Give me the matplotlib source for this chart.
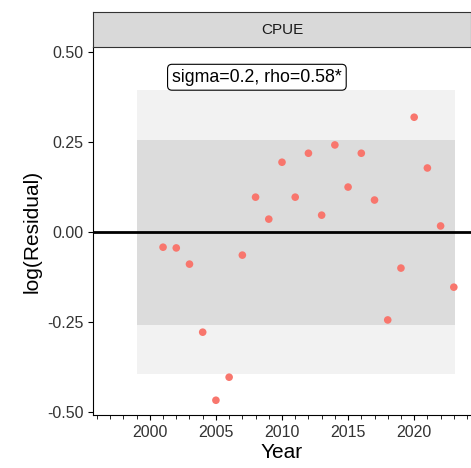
import matplotlib.pyplot as plt
import numpy as np

plt.rcParams['font.family'] = ['Liberation Sans', 'DejaVu Sans']

years = list(range(2001, 2024))
resid = [-0.042, -0.044, -0.089, -0.278, -0.467, -0.403, -0.064, 0.097, 0.036, 0.194,
         0.097, 0.219, 0.047, 0.242, 0.125, 0.219, 0.089, -0.244, -0.1, 0.319,
         0.178, 0.017, -0.153]
sigma_band = 0.257
outer_band = 0.395
band_x = [1999.0, 2023.1]
label = "sigma=0.2, rho=0.58*"

fig = plt.figure(figsize=(4.71, 4.68), dpi=100)
ax = fig.add_axes([93/471, 1-415/468, (471-93)/471, (415-47)/468])
ax.fill_between(band_x, -outer_band, outer_band, color='#f2f2f2', lw=0, zorder=0)
ax.fill_between(band_x, -sigma_band, sigma_band, color='#dcdcdc', lw=0, zorder=1)
ax.axhline(0, color='black', lw=2, zorder=2)
ax.scatter(years, resid, color='#f8766d', s=30, zorder=3, edgecolors='none')
ax.set_xlim(1995.7, 2024.3)
ax.set_ylim(-0.508, 0.514)
ax.set_xticks([2000, 2005, 2010, 2015, 2020])
ax.set_xticks(range(1996, 2025), minor=True)
ax.set_yticks([-0.5, -0.25, 0, 0.25, 0.5])
ax.set_yticklabels(['-0.50', '-0.25', '0.00', '0.25', '0.50'])
for s in ['top', 'right']:
    ax.spines[s].set_visible(False)
ax.tick_params(labelsize=11.5, color='black', labelcolor='#333333')
ax.tick_params(which='minor', length=3)
ax.set_xlabel('Year', fontsize=15, labelpad=2)
ax.set_ylabel('log(Residual)', fontsize=15)
ax.text(2008.1, 0.43, label, ha='center', va='center', fontsize=12.8,
        bbox=dict(boxstyle='round,pad=0.25', fc='white', ec='black', lw=0.8), zorder=5)
strip = fig.add_axes([93/471, 1-47/468, (471-93)/471, 35/468])
strip.set_facecolor('#d9d9d9')
strip.set_xticks([]); strip.set_yticks([])
for s in strip.spines.values():
    s.set_color('#333333')
strip.text(0.5, 0.5, 'CPUE', ha='center', va='center', fontsize=11, color='#1a1a1a',
           transform=strip.transAxes)
fig.savefig('out.png', dpi=100)
